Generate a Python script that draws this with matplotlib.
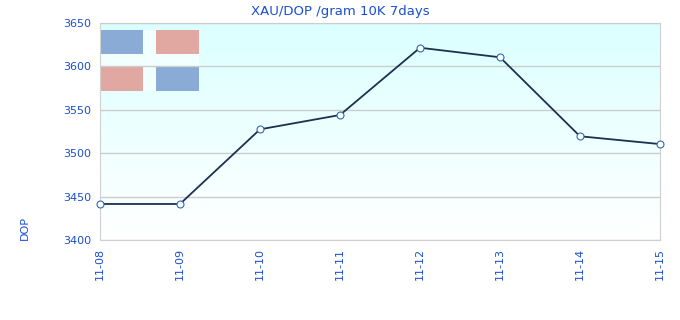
import matplotlib
matplotlib.use("Agg")
import matplotlib.pyplot as plt
from matplotlib.patches import Rectangle
import numpy as np

dates = ["11-08", "11-09", "11-10", "11-11", "11-12", "11-13", "11-14", "11-15"]
prices = [3441.5, 3441.5, 3527.5, 3544.0, 3621.5, 3610.5, 3519.5, 3510.5]
yticks = [3400, 3450, 3500, 3550, 3600, 3650]

TXT = "#1a4fd0"
LINE = "#1c3050"
MARK = "#2a6ab0"

fig = plt.figure(figsize=(6.8, 3.2), dpi=100)
ax = fig.add_axes([100 / 680, 1 - 240 / 320, 560 / 680, 217 / 320])
x = np.arange(len(dates))

# background gradient: light cyan at top -> white at bottom
grad = np.linspace(0, 1, 256).reshape(-1, 1)
top = np.array([0.86, 1.0, 1.0])
bot = np.array([1.0, 1.0, 1.0])
img = bot + (top - bot) * grad
ax.imshow(img[:, None, :].repeat(2, axis=1), aspect="auto", origin="lower",
          extent=(0, 1, 0, 1), transform=ax.transAxes, zorder=0)


def px_rect(x0, y0, w, h, color):
    # pixel box (relative to axes left / figure top) -> axes fraction
    ax.add_patch(Rectangle((x0 / 560, (240 - y0 - h) / 217), w / 560, h / 217,
                           transform=ax.transAxes, facecolor=color, edgecolor="none", zorder=1))


# flag-like decoration in upper left
px_rect(0, 30, 99, 61, "#f2ffff")
for (x0, y0, c) in [(0, 30, "#8aabd6"), (56, 30, "#e0a8a0"),
                    (0, 67, "#e0a8a0"), (56, 67, "#8aabd6")]:
    px_rect(x0, y0, 43, 24, c)

ax.plot(x, prices, color=LINE, lw=1.3, marker="o", ms=5, mfc="white", mec=MARK,
        mew=0.8, zorder=3, clip_on=False)

ax.set_xlim(0, len(dates) - 1)
ax.set_ylim(3400, 3650)
ax.set_yticks(yticks)
ax.set_xticks(x)
ax.set_xticklabels(dates, rotation=90)
ax.yaxis.grid(True, color="#cccccc", lw=1, zorder=2)
ax.set_axisbelow(False)
for s in ax.spines.values():
    s.set_color("#d0d0d0")
ax.tick_params(length=0, labelsize=8, labelcolor=TXT, pad=6)

fig.text(340 / 680, 1 - 11 / 320, "XAU/DOP /gram 10K 7days", ha="center", va="center",
         fontsize=9.5, color=TXT)
fig.text(25 / 680, 1 - 228 / 320, "DOP", ha="center", va="center", rotation=90,
         fontsize=8, color=TXT)

fig.savefig("out.png", dpi=100, facecolor="white")
